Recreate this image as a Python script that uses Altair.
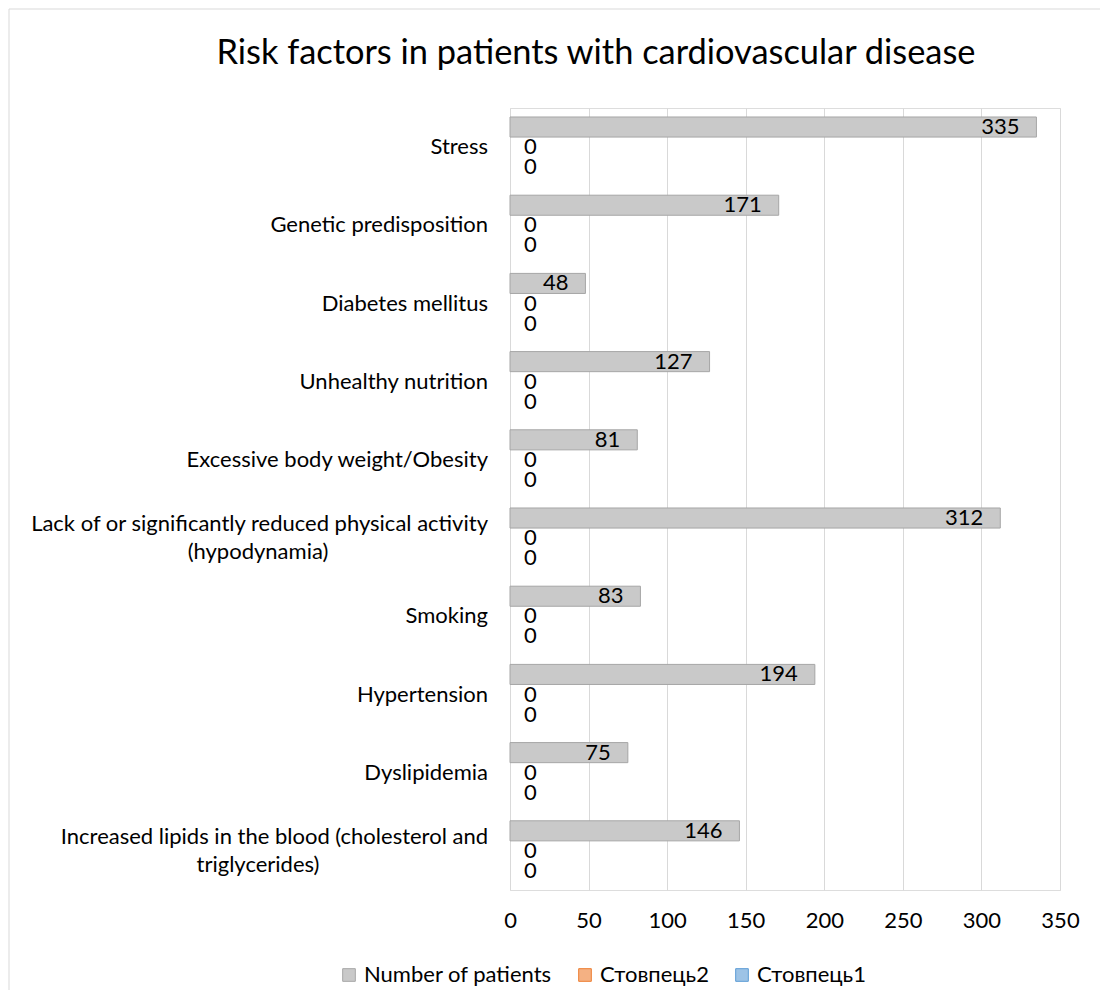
import altair as alt
import pandas as pd

categories = [
    "Stress",
    "Genetic predisposition",
    "Diabetes mellitus",
    "Unhealthy nutrition",
    "Excessive body weight/Obesity",
    "Lack of or significantly reduced physical activity (hypodynamia)",
    "Smoking",
    "Hypertension",
    "Dyslipidemia",
    "Increased lipids in the blood (cholesterol and triglycerides)",
]
label_line1 = [
    "Stress",
    "Genetic predisposition",
    "Diabetes mellitus",
    "Unhealthy nutrition",
    "Excessive body weight/Obesity",
    "Lack of or significantly reduced physical activity",
    "Smoking",
    "Hypertension",
    "Dyslipidemia",
    "Increased lipids in the blood (cholesterol and",
]
label_line2 = ["", "", "", "", "", "(hypodynamia)", "", "", "", "triglycerides)"]

series = ["Number of patients", "Стовпець2", "Стовпець1"]
number_of_patients = [335, 171, 48, 127, 81, 312, 83, 194, 75, 146]
stovpets2 = [0, 0, 0, 0, 0, 0, 0, 0, 0, 0]
stovpets1 = [0, 0, 0, 0, 0, 0, 0, 0, 0, 0]
x_ticks = [0, 50, 100, 150, 200, 250, 300, 350]
chart_title = "Risk factors in patients with cardiovascular disease"

fill_colors = ["#c9c9c9", "#f4b183", "#9dc3e6"]
stroke_colors = ["#a6a6a6", "#ed7d31", "#5b9bd5"]

rows = []
for s, vals in zip(series, [number_of_patients, stovpets2, stovpets1]):
    for c, v in zip(categories, vals):
        rows.append({"category": c, "series": s, "value": v})
df = pd.DataFrame(rows)

lab = pd.DataFrame({"category": categories, "line1": label_line1, "line2": label_line2})

FONT = "Lato"
FS = 22

y_enc = alt.Y("category:N", sort=categories,
              scale=alt.Scale(domain=categories, paddingInner=0.23, paddingOuter=0.115),
              axis=None)
yoff = alt.YOffset("series:N", sort=series,
                   scale=alt.Scale(domain=series, paddingInner=0, paddingOuter=0))
x_enc = alt.X("value:Q", scale=alt.Scale(domain=[0, 350], nice=False),
              axis=alt.Axis(values=x_ticks, grid=True, gridColor="#d9d9d9", domain=False,
                            ticks=False, title=None, labelFont=FONT, labelFontSize=FS,
                            labelColor="#000000", labelPadding=20, labelFlush=False))

base = alt.Chart(df)

bars = base.mark_bar().encode(
    x=x_enc,
    y=y_enc,
    yOffset=yoff,
    color=alt.Color("series:N", sort=series,
                    scale=alt.Scale(domain=series, range=fill_colors),
                    legend=alt.Legend(title=None, orient="none", direction="horizontal",
                                      legendX=-172, legendY=856, symbolType="square",
                                      symbolSize=160, symbolStrokeWidth=1,
                                      labelFont=FONT, labelFontSize=FS, labelColor="#000000",
                                      labelOffset=4, columnPadding=22, labelLimit=0)),
    stroke=alt.Stroke("series:N", sort=series,
                      scale=alt.Scale(domain=series, range=stroke_colors)),
    strokeWidth=alt.condition("datum.value > 0", alt.value(1), alt.value(0)),
)

val_main = base.transform_filter(alt.datum.series == series[0]).mark_text(
    align="right", baseline="middle", dx=-17, font=FONT, fontSize=FS, color="#000000"
).encode(x="value:Q", y=alt.Y("category:N", sort=categories), yOffset=yoff, text="value:Q")

val_zero = base.transform_filter(alt.datum.series != series[0]).mark_text(
    align="left", baseline="middle", dx=14, font=FONT, fontSize=FS, color="#000000"
).encode(x="value:Q", y=alt.Y("category:N", sort=categories), yOffset=yoff, text="value:Q")

labbase = alt.Chart(lab)
lab_single = labbase.transform_filter("datum.line2 == ''").mark_text(
    align="right", baseline="middle", font=FONT, fontSize=FS, color="#000000"
).encode(x=alt.value(-22), y=alt.Y("category:N", sort=categories), text="line1:N")

lab_first = labbase.transform_filter("datum.line2 != ''").mark_text(
    align="right", baseline="middle", dy=-14, font=FONT, fontSize=FS, color="#000000"
).encode(x=alt.value(-22), y=alt.Y("category:N", sort=categories), text="line1:N")

lab_second = labbase.transform_filter("datum.line2 != ''").mark_text(
    align="center", baseline="middle", dy=14, font=FONT, fontSize=FS, color="#000000"
).encode(x=alt.value(-252), y=alt.Y("category:N", sort=categories), text="line2:N")

one = pd.DataFrame({"t": [chart_title]})
border = alt.Chart(one).mark_rect(
    fill=None, stroke="#d9d9d9", strokeWidth=1
).encode(x=alt.value(-501), x2=alt.value(597), y=alt.value(-99), y2=alt.value(892))

title_mark = alt.Chart(one).mark_text(
    align="center", baseline="middle", font=FONT, fontSize=34.4, color="#000000"
).encode(x=alt.value(86), y=alt.value(-54), text="t:N")

chart = alt.layer(border, title_mark, bars, val_main, val_zero,
                  lab_single, lab_first, lab_second).properties(
    width=550,
    height=782,
    autosize=alt.AutoSizeParams(type="none"),
    padding={"left": 502, "top": 100, "right": 40, "bottom": 100},
).configure_view(stroke=None).configure(background="#ffffff")

chart.save("out.html", embed_options={"renderer": "svg", "actions": False})
